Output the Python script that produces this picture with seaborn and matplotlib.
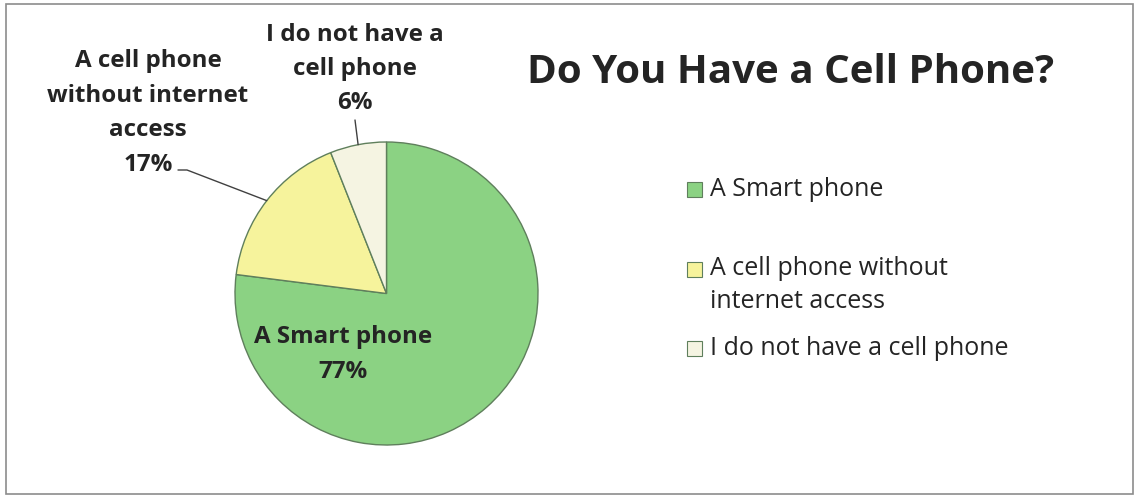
import numpy as np
import matplotlib
matplotlib.use("Agg")
import matplotlib.pyplot as plt
from matplotlib.patches import Rectangle
import seaborn as sns

# Survey answers
categories = ["A Smart phone", "A cell phone without internet access", "I do not have a cell phone"]
shares = [77, 17, 6]
legend_labels = ["A Smart phone", "A cell phone without\ninternet access", "I do not have a cell phone"]
slice_labels = ["A Smart phone", "A cell phone\nwithout internet\naccess", "I do not have a\ncell phone"]
title = "Do You Have a Cell Phone?"

sns.set_style("white")
plt.rcParams["font.family"] = ["Open Sans", "DejaVu Sans"]

palette = sns.color_palette(["#8bd283", "#f6f39c", "#f5f4e2"])
edge = "#5f7f5c"
ink = "#242424"

W, H = 1135, 497
fig = plt.figure(figsize=(W / 100, H / 100), dpi=100)
fig.patch.set_facecolor("white")

# outer chart frame
fig.patches.append(Rectangle((6 / W, 3 / H), 1127 / W, 490 / H, transform=fig.transFigure,
                             fill=False, edgecolor="#8c8c8c", linewidth=1.2))

# pie area: center (386.5, 293.5) px, radius 151.5 px
cx, cy, r = 386.5, 293.5, 151.5
ax = fig.add_axes([(cx - r) / W, (H - cy - r) / H, 2 * r / W, 2 * r / H])
wedges, _ = ax.pie(shares, colors=palette, startangle=90, counterclock=False,
                   wedgeprops=dict(edgecolor=edge, linewidth=1.0))
ax.set_xlim(-1, 1)
ax.set_ylim(-1, 1)
ax.set_aspect("equal")
ax.axis("off")


def px(x, y):
    return (x - cx) / r, (cy - y) / r


# middle angle of each slice, used to anchor the leader lines
fracs = np.array(shares, dtype=float) / sum(shares)
ends = 90 - 360 * np.cumsum(fracs)
starts = ends + 360 * fracs
mids = np.deg2rad((starts + ends) / 2)

lab_kw = dict(ha="center", va="center", fontsize=17.4, fontweight="bold", color=ink,
              linespacing=1.58, clip_on=False)

# Smart phone label inside its slice
ax.text(*px(343, 354.5), f"{slice_labels[0]}\n{shares[0]}%", **lab_kw)

# cell phone without internet label with a bent leader
ax.text(*px(148, 113), f"{slice_labels[1]}\n{shares[1]}%", **lab_kw)
x0, y0 = px(178, 170)
x1, y1 = px(187, 170)
ax.plot([x0, x1, np.cos(mids[1])], [y0, y1, np.sin(mids[1])], color="#404040", lw=1.0, clip_on=False)

# no cell phone label with a straight leader
ax.text(*px(355, 69), f"{slice_labels[2]}\n{shares[2]}%", **lab_kw)
x2, y2 = px(355, 120)
ax.plot([x2, np.cos(mids[2])], [y2, np.sin(mids[2])], color="#404040", lw=1.0, clip_on=False)

# title
fig.text(791 / W, 1 - 83 / H, title, ha="center", va="baseline", fontsize=29,
         fontweight="bold", color=ink)

# legend: baseline of each entry's first line; multi-line text anchors on its last line
first_baselines = [196, 276, 355]
line_step = 32
for label, color, base in zip(legend_labels, palette, first_baselines):
    fig.patches.append(Rectangle((687 / W, 1 - (base + 1) / H), 15 / W, 15 / H,
                                 transform=fig.transFigure, facecolor=color,
                                 edgecolor=edge, linewidth=0.8))
    last_base = base + line_step * label.count("\n")
    fig.text(710 / W, 1 - last_base / H, label, ha="left", va="baseline", fontsize=18,
             color=ink, linespacing=1.42)

fig.savefig("out.png", dpi=100)
